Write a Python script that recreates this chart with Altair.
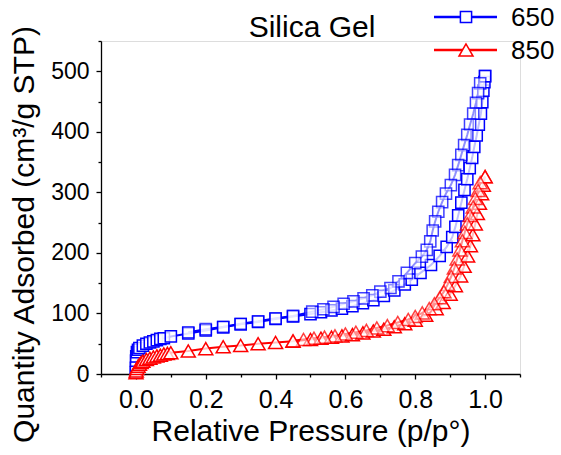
import altair as alt
import pandas as pd

FONT = "Liberation Sans"

series = ["650", "850"]
colors = ["#0000FF", "#FF0000"]
shapes = ["square", "triangle-up"]
marker_sizes = [125, 196]

# 650 : adsorption branch
ads650_p = [0.00002, 0.0001, 0.0005, 0.001, 0.003, 0.006, 0.01, 0.02, 0.03, 0.04, 0.05,
            0.06, 0.07, 0.08, 0.10, 0.15, 0.20, 0.25, 0.30, 0.35, 0.40, 0.45, 0.50, 0.53,
            0.56, 0.59, 0.62, 0.65, 0.68, 0.71, 0.74, 0.77, 0.79, 0.815, 0.845, 0.87, 0.89,
            0.906, 0.915, 0.923, 0.932, 0.941, 0.949, 0.956, 0.963, 0.969, 0.976, 0.982,
            0.988, 0.992, 0.995, 0.998, 1.0]
ads650_q = [3, 10, 22, 29, 36, 40, 43, 47, 50, 52, 54, 56, 58, 59, 62, 67, 72, 77, 82, 86,
            91, 95, 99, 102, 105, 108, 112, 117, 122, 129, 138, 148, 156, 167, 180, 195, 210,
            226, 243, 262, 283, 304, 322, 340, 357, 375, 394, 412, 430, 449, 468, 482, 492]
# 650 : desorption branch
des650_p = [1.0, 0.986, 0.980, 0.974, 0.966, 0.957, 0.949, 0.940, 0.932, 0.923, 0.914, 0.902,
            0.888, 0.877, 0.866, 0.857, 0.850, 0.843, 0.833, 0.819, 0.800, 0.776, 0.752, 0.729,
            0.700, 0.677, 0.652, 0.623, 0.595, 0.566, 0.537, 0.505, 0.45, 0.40, 0.35, 0.30,
            0.25, 0.20, 0.15]
des650_q = [492, 480, 464, 448, 430, 412, 395, 378, 362, 345, 329, 312, 298, 284, 268, 252,
            237, 219, 205, 194, 183, 167, 153, 142, 136, 130, 125, 120, 116, 111, 107, 103,
            96, 92, 87, 83, 78, 74, 69]

# 850 : adsorption branch
ads850_p = [0.0003, 0.001, 0.003, 0.006, 0.01, 0.015, 0.02, 0.03, 0.04, 0.05, 0.06, 0.07,
            0.08, 0.09, 0.10, 0.15, 0.20, 0.25, 0.30, 0.35, 0.40, 0.45, 0.50, 0.53, 0.56, 0.59,
            0.62, 0.65, 0.68, 0.71, 0.74, 0.77, 0.80, 0.83, 0.86, 0.88, 0.90, 0.915, 0.93,
            0.94, 0.95, 0.958, 0.965, 0.972, 0.978, 0.984, 0.99, 0.995, 1.0]
ads850_q = [2, 5, 9, 13, 16, 19, 21, 24, 26, 28, 30, 31, 33, 34, 35, 38, 42, 45, 47, 50, 52,
            54, 57, 59, 61, 63, 65, 68, 71, 74, 78, 83, 89, 97, 108, 118, 132, 146, 162, 178,
            195, 212, 230, 248, 265, 282, 298, 312, 326]
# 850 : desorption branch
des850_p = [1.0, 0.986, 0.98, 0.972, 0.966, 0.957, 0.949, 0.942, 0.935, 0.928, 0.92, 0.912,
            0.903, 0.893, 0.882, 0.87, 0.855, 0.84, 0.82, 0.80, 0.78, 0.75, 0.72, 0.69, 0.66,
            0.63, 0.60, 0.57, 0.54, 0.51, 0.48, 0.45]
des850_q = [326, 316, 303, 290, 276, 262, 248, 234, 220, 205, 190, 175, 161, 148, 136, 126,
            116, 108, 101, 95, 90, 85, 80, 76, 72, 69, 66, 63, 61, 59, 57, 55]

x_ticks = [-0.1, 0.0, 0.1, 0.2, 0.3, 0.4, 0.5, 0.6, 0.7, 0.8, 0.9, 1.0, 1.1]
y_ticks = [0, 50, 100, 150, 200, 250, 300, 350, 400, 450, 500, 550]

title_text = "Silica Gel"
x_title = "Relative Pressure (p/p°)"
y_title = "Quantity Adsorbed (cm³/g STP)"

rows = []
for name, branch, ps, qs in [("650", "ads", ads650_p, ads650_q), ("650", "des", des650_p, des650_q),
                             ("850", "ads", ads850_p, ads850_q), ("850", "des", des850_p, des850_q)]:
    for i, (p, q) in enumerate(zip(ps, qs)):
        rows.append({"series": name, "branch": branch, "key": name + "-" + branch,
                     "order": i, "p": p, "q": q})
df = pd.DataFrame(rows)

W, H = 419, 333

x_axis = alt.Axis(
    values=x_ticks, grid=False, labelOverlap=False, labelFlush=False,
    labelExpr="abs(round(datum.value*10)) % 2 == 0 ? format(datum.value, '.1f') : ''",
    tickSize={"condition": {"test": "abs(round(datum.value*10)) % 2 == 0", "value": 5}, "value": 3},
    domainColor="black", tickColor="black", domainWidth=1.3, tickWidth=1.3,
    labelFont=FONT, labelFontSize=25, labelColor="black", labelPadding=8,
    title=x_title, titleFont=FONT, titleFontSize=30, titleFontWeight="normal", titleColor="black",
    titleX=W / 2, titleY=66, titleBaseline="alphabetic", titleAlign="center",
)
y_axis = alt.Axis(
    values=y_ticks, grid=False, labelOverlap=False, labelFlush=False,
    labelExpr="datum.value % 100 == 0 ? datum.value : ''",
    tickSize={"condition": {"test": "datum.value % 100 == 0", "value": 5}, "value": 3},
    domainColor="black", tickColor="black", domainWidth=1.3, tickWidth=1.3,
    labelFont=FONT, labelFontSize=23, labelColor="black", labelPadding=7,
    title=y_title, titleFont=FONT, titleFontSize=30, titleFontWeight="normal", titleColor="black",
    titleAngle=-90, titleX=-68, titleY=193, titleBaseline="alphabetic", titleAlign="center",
)

X = alt.X("p:Q", scale=alt.Scale(domain=[-0.1, 1.1], nice=False, zero=False), axis=x_axis)
Y = alt.Y("q:Q", scale=alt.Scale(domain=[0, 550], nice=False, zero=False), axis=y_axis)
col_scale = alt.Scale(domain=series, range=colors)

base = alt.Chart(df)
lines = base.mark_line(strokeWidth=2).encode(
    x=X, y=Y,
    color=alt.Color("series:N", scale=col_scale, legend=None),
    detail="key:N", order="order:Q",
)
points = base.mark_point(fill="white", fillOpacity=0.75, strokeWidth=1.5).encode(
    x=X, y=Y,
    stroke=alt.Stroke("series:N", scale=col_scale, legend=None),
    shape=alt.Shape("series:N", scale=alt.Scale(domain=series, range=shapes), legend=None),
    size=alt.Size("series:N", scale=alt.Scale(domain=series, range=marker_sizes), legend=None),
    opacity=alt.Opacity("branch:N", scale=alt.Scale(domain=["ads", "des"], range=[1.0, 0.75]), legend=None),
)

title_mark = alt.Chart(alt.Data(values=[{"t": title_text}])).mark_text(
    font=FONT, fontSize=30, baseline="alphabetic", align="center", color="black"
).encode(x=alt.value(211), y=alt.value(-4.5), text="t:N")

legend_layers = []
for i, (s, c, sh, sz) in enumerate(zip(series, colors, shapes, marker_sizes)):
    yy = -24 + 33 * i
    d = alt.Data(values=[{"label": s}])
    legend_layers.append(alt.Chart(d).mark_rule(strokeWidth=2.6, color=c).encode(
        x=alt.value(333), x2=alt.value(396), y=alt.value(yy)))
    legend_layers.append(alt.Chart(d).mark_point(
        fill="white", fillOpacity=1, strokeWidth=1.5, stroke=c, shape=sh, size=sz, opacity=1
    ).encode(x=alt.value(365), y=alt.value(yy)))
    legend_layers.append(alt.Chart(d).mark_text(
        font=FONT, fontSize=26, align="left", baseline="middle", color="black"
    ).encode(x=alt.value(410), y=alt.value(yy + 1), text="label:N"))

chart = alt.layer(lines, points, title_mark, *legend_layers).properties(
    width=W, height=H,
    autosize=alt.AutoSizeParams(type="none"),
    padding={"left": 101, "top": 41, "right": 41, "bottom": 81},
).configure_view(stroke=None).configure(font=FONT, background="white")

chart.save("out.html", embed_options={"renderer": "svg", "actions": False})
